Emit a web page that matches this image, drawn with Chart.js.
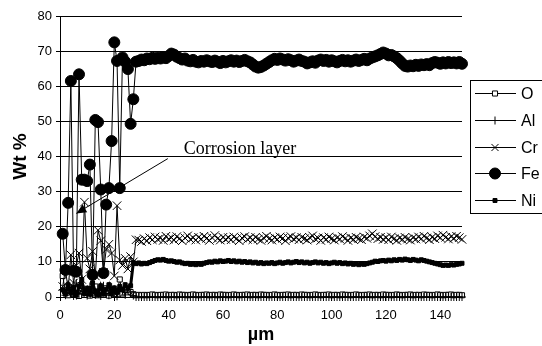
<!DOCTYPE html>
<html>
<head>
<meta charset="utf-8">
<script src="https://cdn.jsdelivr.net/npm/chart.js@4.4.1/dist/chart.umd.min.js"></script>
<style>
html, body { margin: 0; padding: 0; background: #fff; }
canvas { display: block; }
</style>
</head>
<body>
<canvas id="profile" width="542" height="346"></canvas>
<script>
// depth along the scan, um
const depth = [
  1, 2, 3, 4, 5, 6, 7, 8, 9, 10,
  11, 12, 13, 14, 15, 16, 17, 18, 19, 20,
  21, 22, 23, 24, 25, 26, 27, 28, 29, 30,
  31, 32, 33, 34, 35, 36, 37, 38, 39, 40,
  41, 42, 43, 44, 45, 46, 47, 48, 49, 50,
  51, 52, 53, 54, 55, 56, 57, 58, 59, 60,
  61, 62, 63, 64, 65, 66, 67, 68, 69, 70,
  71, 72, 73, 74, 75, 76, 77, 78, 79, 80,
  81, 82, 83, 84, 85, 86, 87, 88, 89, 90,
  91, 92, 93, 94, 95, 96, 97, 98, 99, 100,
  101, 102, 103, 104, 105, 106, 107, 108, 109, 110,
  111, 112, 113, 114, 115, 116, 117, 118, 119, 120,
  121, 122, 123, 124, 125, 126, 127, 128, 129, 130,
  131, 132, 133, 134, 135, 136, 137, 138, 139, 140,
  141, 142, 143, 144, 145, 146, 147, 148
];

// wt % per element
const oWt = [
  6, 1.5, 0.5, 2, 0.8, 1.2, 0.3, 2.5, 0.6, 1.5,
  0.4, 1, 3, 0.5, 1.8, 0.7, 1.2, 0.4, 2, 0.8,
  1.5, 5, 1, 2, 0.6, 1.4, 0.8, 0.5, 0.6, 0.5,
  0.6, 0.5, 0.6, 0.7, 0.6, 0.5, 0.6, 0.6, 0.7, 0.5,
  0.6, 0.6, 0.5, 0.7, 0.6, 0.6, 0.5, 0.6, 0.7, 0.6,
  0.5, 0.6, 0.6, 0.7, 0.5, 0.6, 0.6, 0.5, 0.7, 0.6,
  0.6, 0.5, 0.6, 0.7, 0.6, 0.5, 0.6, 0.6, 0.7, 0.5,
  0.6, 0.6, 0.5, 0.7, 0.6, 0.6, 0.5, 0.6, 0.7, 0.6,
  0.5, 0.6, 0.6, 0.7, 0.5, 0.6, 0.6, 0.5, 0.7, 0.6,
  0.6, 0.5, 0.6, 0.7, 0.6, 0.5, 0.6, 0.6, 0.7, 0.5,
  0.6, 0.6, 0.5, 0.7, 0.6, 0.6, 0.5, 0.6, 0.7, 0.6,
  0.5, 0.6, 0.6, 0.7, 0.5, 0.6, 0.6, 0.5, 0.7, 0.6,
  0.6, 0.5, 0.6, 0.7, 0.6, 0.5, 0.6, 0.6, 0.7, 0.5,
  0.6, 0.6, 0.5, 0.7, 0.6, 0.6, 0.5, 0.6, 0.7, 0.6,
  0.5, 0.6, 0.6, 0.7, 0.5, 0.6, 0.6, 0.5
];
const alWt = [
  2, 0.5, 3.5, 1, 0.3, 4, 0.8, 2.5, 1.5, 0.4,
  3, 1.2, 0.6, 2.2, 0.3, 3.2, 1, 0.5, 2.8, 1.4,
  0.2, 2.5, 1.8, 0.6, 2.2, 1.2, 0.4, 0, 0, 0,
  0, 0, 0, 0, 0, 0, 0, 0, 0, 0,
  0, 0, 0, 0, 0, 0, 0, 0, 0, 0,
  0, 0, 0, 0, 0, 0, 0, 0, 0, 0,
  0, 0, 0, 0, 0, 0, 0, 0, 0, 0,
  0, 0, 0, 0, 0, 0, 0, 0, 0, 0,
  0, 0, 0, 0, 0, 0, 0, 0, 0, 0,
  0, 0, 0, 0, 0, 0, 0, 0, 0, 0,
  0, 0, 0, 0, 0, 0, 0, 0, 0, 0,
  0, 0, 0, 0, 0, 0, 0, 0, 0, 0,
  0, 0, 0, 0, 0, 0, 0, 0, 0, 0,
  0, 0, 0, 0, 0, 0, 0, 0, 0, 0,
  0, 0, 0, 0, 0, 0, 0, 0
];
const crWt = [
  3, 8, 2, 12, 4, 9, 12.5, 5, 27, 11,
  8, 13, 6, 19, 16, 7, 13.5, 15, 12.5, 6,
  26, 10.5, 9, 11, 8, 11.5, 10, 16.3, 16.2, 15.8,
  16.6, 16.0, 16.9, 16.3, 17.1, 16.4, 16.8, 16.1, 17.3, 16.5,
  16.9, 16.2, 17.2, 16.6, 16.0, 16.8, 17.4, 16.4, 16.9, 16.2,
  17.0, 16.5, 17.3, 16.7, 16.1, 16.9, 17.5, 16.6, 16.2, 17.0,
  16.4, 16.9, 16.3, 17.1, 16.6, 16.0, 16.8, 17.2, 16.4, 16.9,
  16.3, 17.0, 16.5, 16.1, 16.8, 17.3, 16.6, 16.2, 16.9, 16.4,
  17.1, 16.7, 16.0, 16.8, 17.2, 16.5, 16.9, 16.3, 17.0, 16.6,
  16.2, 16.9, 17.4, 16.5, 16.8, 16.1, 16.9, 16.4, 17.1, 16.6,
  16.2, 16.9, 16.5, 17.2, 16.7, 16.1, 16.8, 16.4, 17.0, 16.6,
  16.3, 17.1, 16.7, 17.4, 18.0, 17.2, 16.6, 17.0, 16.4, 16.9,
  16.3, 17.1, 16.6, 16.1, 16.8, 16.4, 17.0, 16.5, 16.2, 16.9,
  16.5, 17.1, 16.6, 17.3, 16.8, 16.3, 17.0, 16.6, 17.4, 16.9,
  17.6, 17.0, 16.5, 17.2, 16.7, 17.3, 16.9, 16.4
];
const feWt = [
  18, 7.7, 26.8, 61.5, 7.5, 7.2, 63.4, 33.4, 33.4, 33,
  37.7, 6.3, 50.4, 49.8, 30.6, 6.8, 26.3, 31, 44.4, 72.5,
  67.2, 31, 68.2, 67, 64.9, 49.3, 56.3, 67, 67.2, 67.6,
  67.4, 67.9, 67.7, 68.1, 67.8, 68.2, 67.9, 68.3, 68.0, 68.6,
  69.3, 69.0, 68.4, 68.0, 67.6, 67.9, 67.3, 67.1, 67.5, 67.0,
  66.8, 67.2, 67.0, 67.4, 67.1, 66.9, 67.3, 67.0, 66.6, 67.2,
  66.8, 67.1, 67.4, 67.0, 67.3, 66.9, 67.2, 67.5, 67.1, 66.8,
  66.2, 65.6, 65.3, 65.5, 65.9, 66.4, 66.9, 67.4, 67.8, 67.5,
  67.9, 67.6, 67.3, 67.7, 67.4, 67.0, 67.3, 67.6, 67.2, 67.0,
  66.5, 66.8, 67.1, 66.7, 67.3, 67.6, 67.2, 67.5, 67.0, 67.4,
  67.1, 66.8, 67.2, 67.5, 67.1, 67.4, 67.0, 67.3, 67.6, 67.2,
  67.5, 67.8, 67.4, 67.9, 68.2, 68.5, 68.8, 69.2, 69.6, 69.3,
  68.8, 68.9, 68.5, 68.0, 67.3, 66.5, 65.8, 65.6, 65.9, 65.7,
  66.1, 65.8, 66.2, 66.0, 66.3, 66.0, 66.6, 66.9, 66.7, 66.4,
  66.8, 66.5, 66.9, 66.6, 66.8, 66.5, 66.9, 66.4
];
const niWt = [
  2, 0.8, 3.5, 1.2, 2.8, 0.5, 3, 5, 1, 2.5,
  0.8, 4, 1.5, 0.6, 3.2, 1, 2.2, 3.5, 0.9, 2.6,
  1.4, 3, 2, 3.5, 2.5, 3.2, 9.8, 9.5, 9.7, 9.4,
  9.6, 9.5, 9.8, 10.1, 10.4, 10.6, 10.5, 10.7, 10.4, 10.2,
  10.3, 10.1, 9.9, 10.0, 9.7, 9.5, 9.6, 9.3, 9.4, 9.2,
  9.4, 9.3, 9.6, 9.8, 10.0, 9.9, 10.2, 10.0, 10.3, 10.1,
  10.2, 10.4, 10.1, 10.3, 10.0, 10.2, 9.9, 10.1, 9.8, 10.0,
  9.7, 9.9, 9.6, 9.8, 9.5, 9.7, 9.6, 9.8, 9.5, 9.7,
  9.9, 9.6, 9.8, 10.0, 9.7, 9.9, 10.1, 9.8, 10.0, 9.7,
  9.9, 9.6, 9.8, 10.0, 9.7, 9.9, 9.6, 9.8, 9.5, 9.7,
  9.9, 9.6, 9.8, 9.5, 9.7, 9.4, 9.6, 9.3, 9.5, 9.2,
  9.4, 9.3, 9.5, 9.7, 9.9, 10.2, 10.1, 10.3, 10.4, 10.2,
  10.5, 10.3, 10.6, 10.4, 10.7, 10.5, 10.8, 10.6, 10.4, 10.7,
  10.5, 10.3, 10.6, 10.4, 10.2, 10.0, 9.8, 9.6, 9.4, 9.2,
  9.0, 9.1, 9.0, 9.2, 9.1, 9.3, 9.4, 9.6
];

const yTicks = [0, 10, 20, 30, 40, 50, 60, 70, 80];
const xTicks = [0, 20, 40, 60, 80, 100, 120, 140];

// annotation: text anchor and arrow, in data units (um, wt %)
const noteText = 'Corrosion layer';
const noteAt = [45.6, 40.6];
const arrowFrom = [39.7, 39.4];
const arrowTo = [6.0, 23.8];

function pts(values) {
  return depth.map((d, i) => ({ x: d, y: values[i] }));
}

function series(label, values, style, radius, fill, width, order) {
  return {
    label: label,
    data: pts(values),
    borderColor: '#000',
    borderWidth: width,
    pointStyle: style,
    pointRadius: radius,
    pointBackgroundColor: fill,
    pointBorderColor: '#000',
    pointBorderWidth: 1,
    tension: 0,
    clip: false,
    order: order
  };
}

const legendBox = {
  id: 'legendBox',
  afterDraw(chart) {
    const ctx = chart.ctx;
    const left = 470, top = 80, rowH = 26.6;
    const sets = chart.data.datasets;
    ctx.save();
    ctx.fillStyle = '#fff';
    ctx.fillRect(left, top, 90, rowH * sets.length);
    ctx.strokeStyle = '#000';
    ctx.lineWidth = 1;
    ctx.strokeRect(left + 0.5, top + 0.5, 90, rowH * sets.length);
    sets.forEach((ds, i) => {
      const y = Math.round(top + rowH * (i + 0.5)) + 0.5;
      ctx.strokeStyle = '#000';
      ctx.lineWidth = 1;
      ctx.beginPath();
      ctx.moveTo(left + 5, y);
      ctx.lineTo(left + 46, y);
      ctx.stroke();
      ctx.fillStyle = ds.pointBackgroundColor;
      const r = ds.label === 'Fe' ? 5.5 : Math.min(ds.pointRadius, 5);
      Chart.helpers.drawPoint(ctx, { pointStyle: ds.pointStyle, radius: r, borderWidth: 1, rotation: 0 }, left + 25, y);
      ctx.fillStyle = '#000';
      ctx.font = '16px "Liberation Sans", Arial, sans-serif';
      ctx.textBaseline = 'middle';
      ctx.textAlign = 'left';
      ctx.fillText(ds.label, left + 51, y + 1);
    });
    ctx.restore();
  }
};

const note = {
  id: 'note',
  afterDraw(chart) {
    const ctx = chart.ctx;
    const xs = chart.scales.x, ys = chart.scales.y;
    const tx = xs.getPixelForValue(noteAt[0]), ty = ys.getPixelForValue(noteAt[1]);
    const x1 = xs.getPixelForValue(arrowFrom[0]), y1 = ys.getPixelForValue(arrowFrom[1]);
    const x2 = xs.getPixelForValue(arrowTo[0]), y2 = ys.getPixelForValue(arrowTo[1]);
    ctx.save();
    ctx.fillStyle = '#000';
    ctx.font = '18px "Liberation Serif", "Times New Roman", serif';
    ctx.textBaseline = 'alphabetic';
    ctx.fillText(noteText, tx, ty);
    ctx.strokeStyle = '#000';
    ctx.lineWidth = 1;
    ctx.beginPath();
    ctx.moveTo(x1, y1);
    ctx.lineTo(x2, y2);
    ctx.stroke();
    // arrow head
    const a = Math.atan2(y2 - y1, x2 - x1);
    const len = 10, half = 4.5;
    ctx.beginPath();
    ctx.moveTo(x2, y2);
    ctx.lineTo(x2 - len * Math.cos(a) + half * Math.sin(a), y2 - len * Math.sin(a) - half * Math.cos(a));
    ctx.lineTo(x2 - len * Math.cos(a) - half * Math.sin(a), y2 - len * Math.sin(a) + half * Math.cos(a));
    ctx.closePath();
    ctx.fill();
    ctx.restore();
  }
};

Chart.defaults.font.family = '"Liberation Sans", Arial, sans-serif';
Chart.defaults.color = '#000';

new Chart(document.getElementById('profile'), {
  type: 'line',
  data: {
    datasets: [
      series('O', oWt, 'rect', 3.6, '#fff', 1, 5),
      series('Al', alWt, 'cross', 4, '#000', 1, 4),
      series('Cr', crWt, 'crossRot', 6, '#000', 1, 3),
      series('Fe', feWt, 'circle', 5.5, '#000', 1, 2),
      series('Ni', niWt, 'rect', 2.8, '#000', 3, 1)
    ]
  },
  options: {
    responsive: false,
    animation: false,
    devicePixelRatio: 1,
    events: [],
    layout: { padding: { top: 16, right: 80, bottom: 0, left: 0 } },
    plugins: { legend: { display: false }, tooltip: { enabled: false } },
    scales: {
      x: {
        type: 'linear',
        min: 0,
        max: 148,
        afterFit: s => { s.height = 49; },
        afterBuildTicks: s => { s.ticks = xTicks.map(v => ({ value: v })); },
        ticks: { font: { size: 13 }, padding: 7, maxRotation: 0, autoSkip: false },
        grid: { drawOnChartArea: false, drawTicks: true, tickLength: 4, color: '#000' },
        border: { color: '#000', width: 1 },
        title: { display: true, text: 'µm', font: { size: 18, weight: 'bold' }, padding: { top: 0, bottom: 0 } }
      },
      y: {
        min: 0,
        max: 80,
        afterFit: s => { s.width = 60; },
        afterBuildTicks: s => { s.ticks = yTicks.map(v => ({ value: v })); },
        ticks: { font: { size: 13 }, padding: 4 },
        grid: { color: '#000', lineWidth: 1, tickLength: 4 },
        border: { color: '#000', width: 1 },
        title: { display: true, text: 'Wt %', font: { size: 19, weight: 'bold' }, padding: { top: 9, bottom: 0 } }
      }
    }
  },
  plugins: [legendBox, note]
});
</script>
</body>
</html>
